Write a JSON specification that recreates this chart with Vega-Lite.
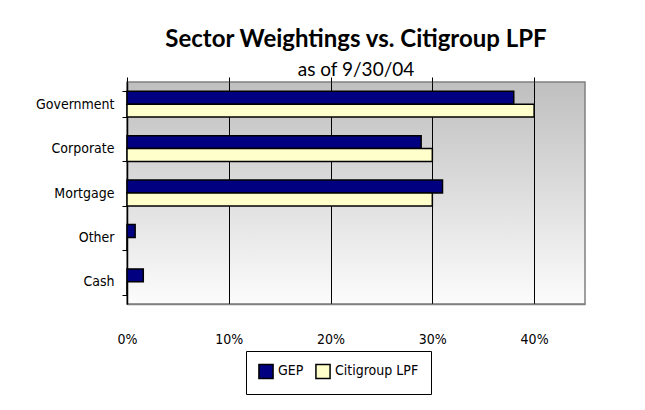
{
  "$schema": "https://vega.github.io/schema/vega-lite/v6.json",
  "autosize": "none",
  "width": 458,
  "height": 222,
  "padding": {"left": 127, "top": 82, "right": 60, "bottom": 106},
  "background": "white",
  "title": {
    "text": "Sector Weightings vs. Citigroup LPF",
    "subtitle": "as of 9/30/04",
    "anchor": "middle",
    "font": "Lato",
    "fontSize": 24,
    "fontWeight": "bold",
    "color": "black",
    "subtitleFont": "Lato",
    "subtitleFontSize": 19,
    "subtitleColor": "black",
    "subtitlePadding": 9,
    "offset": -5
  },
  "data": {
    "values": [
      {"sector": "Government", "series": "GEP", "value": 0.38},
      {"sector": "Government", "series": "Citigroup LPF", "value": 0.40},
      {"sector": "Corporate", "series": "GEP", "value": 0.289},
      {"sector": "Corporate", "series": "Citigroup LPF", "value": 0.30},
      {"sector": "Mortgage", "series": "GEP", "value": 0.31},
      {"sector": "Mortgage", "series": "Citigroup LPF", "value": 0.30},
      {"sector": "Other", "series": "GEP", "value": 0.008},
      {"sector": "Other", "series": "Citigroup LPF", "value": 0},
      {"sector": "Cash", "series": "GEP", "value": 0.016},
      {"sector": "Cash", "series": "Citigroup LPF", "value": 0}
    ]
  },
  "encoding": {
    "y": {
      "field": "sector",
      "type": "nominal",
      "sort": ["Government", "Corporate", "Mortgage", "Other", "Cash"],
      "scale": {"paddingInner": 0.42, "paddingOuter": 0.21},
      "axis": {
        "title": null,
        "domainColor": "black",
        "domainWidth": 1.5,
        "ticks": true,
        "tickBand": "extent",
        "tickColor": "black",
        "tickSize": 5,
        "labelFont": "DejaVu Sans Condensed",
        "labelFontSize": 14,
        "labelColor": "black",
        "labelPadding": 8,
        "grid": false
      }
    }
  },
  "layer": [
    {
      "mark": {"type": "bar", "stroke": "black", "strokeWidth": 1.5, "cornerRadius": 0},
      "encoding": {
        "yOffset": {
          "field": "series",
          "type": "nominal",
          "sort": ["GEP", "Citigroup LPF"],
          "scale": {"paddingInner": 0, "paddingOuter": 0}
        },
        "x": {
          "field": "value",
          "type": "quantitative",
          "scale": {"domain": [0, 0.45], "nice": false},
          "axis": {
            "title": null,
            "orient": "bottom",
            "format": ".0%",
            "values": [0, 0.1, 0.2, 0.3, 0.4],
            "grid": true,
            "gridColor": "black",
            "gridWidth": 1,
            "gridOpacity": 1,
            "ticks": false,
            "labelFlush": false,
            "domainColor": "#808080",
            "domainWidth": 1.5,
            "labelFont": "DejaVu Sans Condensed",
            "labelFontSize": 14,
            "labelColor": "black",
            "labelPadding": 28
          }
        },
        "fill": {
          "field": "series",
          "type": "nominal",
          "sort": ["GEP", "Citigroup LPF"],
          "scale": {"domain": ["GEP", "Citigroup LPF"], "range": ["#000080", "#FFFFCC"]},
          "legend": {
            "title": null,
            "orient": "none",
            "legendX": 119,
            "legendY": 269,
            "direction": "horizontal",
            "strokeColor": "black",
            "fillColor": "white",
            "padding": 12,
            "symbolType": "square",
            "symbolSize": 200,
            "symbolStrokeColor": "black",
            "symbolStrokeWidth": 1.5,
            "labelFont": "DejaVu Sans Condensed",
            "labelFontSize": 14,
            "labelColor": "black",
            "columnPadding": 8,
            "labelOffset": 4
          }
        }
      }
    },
    {
      "mark": {"type": "bar", "opacity": 0, "strokeOpacity": 0},
      "encoding": {
        "yOffset": {
          "field": "series",
          "type": "nominal",
          "sort": ["GEP", "Citigroup LPF"]
        },
        "x": {
          "field": "value",
          "type": "quantitative",
          "axis": {
            "title": null,
            "orient": "top",
            "values": [0, 0.1, 0.2, 0.3, 0.4],
            "labels": false,
            "grid": false,
            "ticks": true,
            "tickSize": 5,
            "tickColor": "black",
            "tickWidth": 1,
            "domain": false
          }
        }
      }
    }
  ],
  "resolve": {"axis": {"x": "independent"}},
  "config": {
    "view": {
      "stroke": "#808080",
      "strokeWidth": 1.5,
      "fill": {
        "gradient": "linear",
        "x1": 0, "y1": 0, "x2": 0, "y2": 1,
        "stops": [
          {"offset": 0, "color": "#bfbfbf"},
          {"offset": 1, "color": "#fcfcfc"}
        ]
      }
    }
  }
}
